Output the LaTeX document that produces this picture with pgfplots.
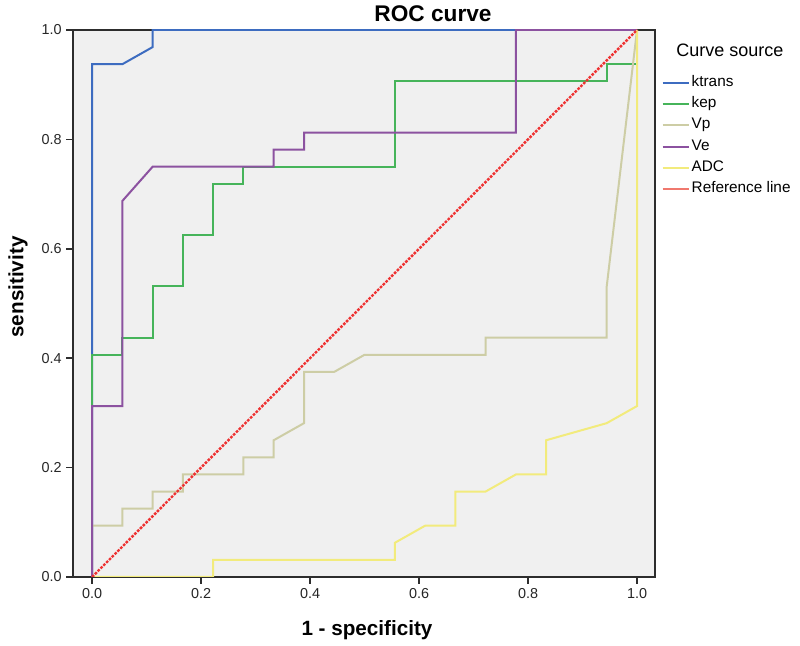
\documentclass[border=0pt]{standalone}
\usepackage{pgfplots}
\pgfplotsset{compat=1.18}
\usepackage{fontspec}
\setmainfont{Liberation Sans}
\definecolor{ktrans}{RGB}{61,108,192}
\definecolor{kep}{RGB}{70,180,90}
\definecolor{vp}{RGB}{205,205,165}
\definecolor{ve}{RGB}{140,82,160}
\definecolor{adc}{RGB}{242,235,124}
\definecolor{refl}{RGB}{238,50,50}
\definecolor{refleg}{RGB}{240,120,110}
\definecolor{bg}{RGB}{240,240,240}
\definecolor{axc}{RGB}{45,45,45}
\begin{document}
\begin{tikzpicture}
\useasboundingbox (-54.75pt,-51.75pt) rectangle (545.25pt,432.75pt);
\begin{axis}[
  scale only axis,
  width=436.5pt, height=410.25pt,
  xmin=-0.035, xmax=1.033, ymin=0, ymax=1,
  axis background/.style={fill=bg},
  axis line style={draw=axc, line width=1.1pt},
  xtick={0,0.2,0.4,0.6,0.8,1.0},
  ytick={0,0.2,0.4,0.6,0.8,1.0},
  xtick pos=bottom, ytick pos=left,
  tick align=outside,
  major tick length=5pt,
  tick style={draw=axc, line width=1.1pt},
  /pgf/number format/.cd, fixed, fixed zerofill, precision=1, assume math mode=true,
  /pgfplots/.cd,
  ticklabel style={font=\fontsize{10.8pt}{12pt}\selectfont, text=black!85},
  legend style={draw=none, fill=none, at={(1.0115,0.9185)}, anchor=north west,
    inner sep=0pt, outer sep=0pt, row sep=3.4pt, column sep=0pt,
    font=\fontsize{11.5pt}{13pt}\selectfont,
    nodes={inner sep=1pt, text height=0.8em, text depth=0.25em}},
  legend cell align=left,
  legend image code/.code={\draw[#1, solid] (0pt,0pt) -- (20pt,0pt);},
]
\addplot[ktrans, line width=1.5pt] coordinates {(0,0) (0,0.9375) (0.0556,0.9375) (0.1111,0.96875) (0.1111,1) (1,1)};
\addlegendentry{ktrans}
\addplot[kep, line width=1.5pt] coordinates {(0,0)(0,0.40625)(0.0556,0.40625)(0.0556,0.4375)(0.1111,0.4375)(0.1111,0.53125)(0.1667,0.53125)(0.1667,0.625)(0.2222,0.625)(0.2222,0.71875)(0.2778,0.71875)(0.2778,0.75)(0.5556,0.75)(0.5556,0.90625)(0.9444,0.90625)(0.9444,0.9375)(1,0.9375)(1,1)};
\addlegendentry{kep}
\addplot[vp, line width=1.5pt] coordinates {(0,0)(0,0.09375)(0.0556,0.09375)(0.0556,0.125)(0.1111,0.125)(0.1111,0.15625)(0.1667,0.15625)(0.1667,0.1875)(0.2778,0.1875)(0.2778,0.21875)(0.3333,0.21875)(0.3333,0.25)(0.3889,0.28125)(0.3889,0.375)(0.4444,0.375)(0.5,0.40625)(0.7222,0.40625)(0.7222,0.4375)(0.9444,0.4375)(0.9444,0.53125)(1,1)};
\addlegendentry{Vp}
\addplot[ve, line width=1.5pt] coordinates {(0,0)(0,0.3125)(0.0556,0.3125)(0.0556,0.6875)(0.1111,0.75)(0.3333,0.75)(0.3333,0.78125)(0.3889,0.78125)(0.3889,0.8125)(0.7778,0.8125)(0.7778,1)(1,1)};
\addlegendentry{Ve}
\addplot[adc, line width=1.5pt] coordinates {(0,0)(0.2222,0)(0.2222,0.03125)(0.5556,0.03125)(0.5556,0.0625)(0.6111,0.09375)(0.6667,0.09375)(0.6667,0.15625)(0.7222,0.15625)(0.7778,0.1875)(0.8333,0.1875)(0.8333,0.25)(0.9444,0.28125)(1,0.3125)(1,1)};
\addlegendentry{ADC}
\addplot[refl, line width=1.8pt, dash pattern=on 2pt off 1pt, forget plot] coordinates {(0,0)(1,1)};
\addlegendimage{refleg, line width=1.5pt}
\addlegendentry{Reference line}
\end{axis}
\node[font=\fontsize{17pt}{19pt}\selectfont\bfseries] at (270pt,422.25pt) {ROC curve};
\node[font=\fontsize{15.5pt}{17pt}\selectfont\bfseries] at (220.5pt,-39.75pt) {1 - specificity};
\node[font=\fontsize{15.5pt}{17pt}\selectfont\bfseries, rotate=90] at (-41.25pt,217.5pt) {sensitivity};
\node[font=\fontsize{13.5pt}{15pt}\selectfont] at (492.75pt,395.25pt) {Curve source};
\end{tikzpicture}
\end{document}
